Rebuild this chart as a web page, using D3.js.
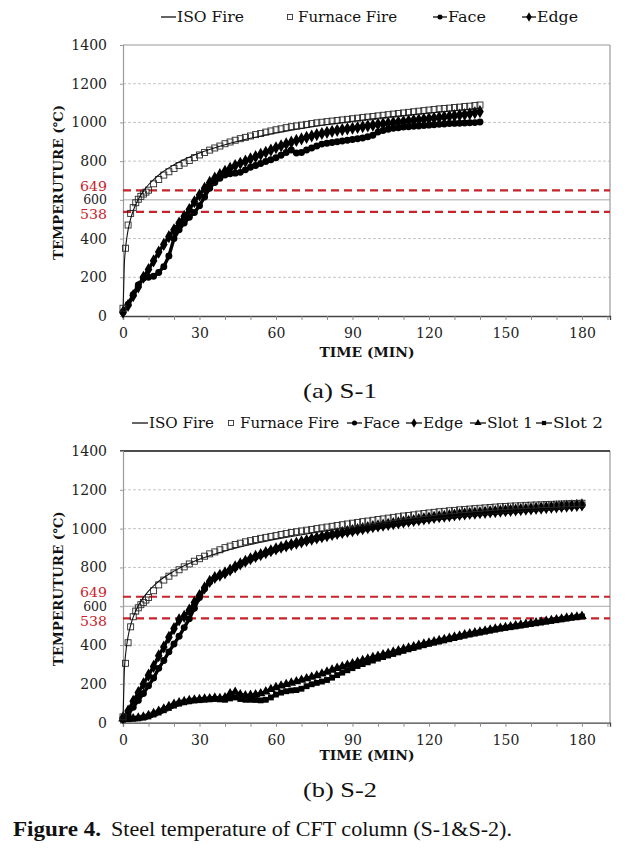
<!DOCTYPE html>
<html><head><meta charset="utf-8">
<script src="https://cdn.jsdelivr.net/npm/d3@7"></script>
<style>body{margin:0;background:#fff}svg{display:block}</style>
</head><body><svg id="c" width="630" height="849"></svg>
<script>
// ---------------- DATA ----------------
const yTicks = [0, 200, 400, 600, 800, 1000, 1200, 1400];
const xLabels = [0, 30, 60, 90, 120, 150, 180];
const xMinor = d3.range(0, 191, 10);
const limitTemps = [649, 538];

// ISO 834 standard fire curve
const isoTime = [0,0.5,1,1.5,2,3,4,5,6,8,10,12,15,20,25,30,40,50,60,75,90,105,120,140,160,180];
const isoTemp = [20,261,349,404,445,502,544,576,603,645,678,705,739,781,815,842,885,918,945,979,1006,1029,1049,1072,1092,1110];

// S-1
const furnaceTimeA = [0,1,2,3,4,5,6,7,8,9].concat(d3.range(10, 141, 2));
const furnaceA = [40,350,470,530,560,585,603,618,630,640,
  650,683,705,728,745,762,777,790,803,818,
  832,845,857,868,878,890,899,908,916,923,
  930,937,943,950,956,962,967,973,978,982,
  986,990,994,998,1001,1004,1007,1010,1013,1016,
  1019,1022,1025,1028,1031,1034,1037,1040,1043,1046,
  1049,1052,1055,1058,1061,1064,1067,1070,1072,1074,
  1077,1079,1082,1084,1087,1090];
const timeA = d3.range(0, 141, 2);
const edgeA = [20,55,105,150,200,240,285,330,370,410,
  445,480,515,550,590,625,660,690,712,730,
  748,763,777,789,800,812,823,835,846,857,
  869,879,889,898,907,915,923,930,937,943,
  949,954,959,963,967,970,974,978,982,986,
  990,993,996,999,1002,1005,1008,1011,1014,1017,
  1020,1023,1026,1029,1032,1035,1038,1041,1045,1050,
  1056];
const faceA = [20,60,110,160,195,200,205,225,255,310,
  400,445,480,510,535,570,615,660,690,712,
  728,735,738,742,755,768,778,788,798,807,
  818,830,845,858,842,845,858,868,878,888,
  892,896,900,904,908,912,916,920,926,934,
  950,958,965,970,973,976,978,980,982,984,
  986,988,990,992,994,995,996,997,998,999,
  1002];

// S-2
const furnaceTimeB = [0,1,2,3,4,5,6,7,8,9].concat(d3.range(10, 181, 2));
const furnaceB = [30,306,412,494,546,575,592,608,620,632,
  645,680,710,735,755,772,788,803,818,832,
  845,858,870,880,891,902,910,918,925,932,
  938,944,950,955,960,964,970,975,980,984,
  988,992,996,1000,1004,1008,1012,1016,1020,1024,
  1028,1032,1036,1039,1043,1047,1050,1054,1058,1061,
  1065,1068,1071,1075,1078,1081,1084,1087,1089,1092,
  1094,1097,1099,1101,1103,1105,1107,1109,1111,1113,
  1114,1116,1117,1118,1120,1121,1122,1123,1124,1125,
  1126,1127,1128,1129,1130,1131];
const timeB = d3.range(0, 181, 2);
const edgeB = [25,60,110,155,200,245,290,345,390,440,
  485,530,548,580,620,655,695,728,748,760,
  772,787,803,818,832,845,857,866,876,886,
  896,904,911,918,925,932,939,946,952,958,
  964,970,975,980,985,990,995,1000,1005,1010,
  1014,1018,1022,1026,1030,1034,1038,1042,1046,1050,
  1054,1058,1061,1064,1067,1070,1073,1076,1078,1080,
  1082,1084,1086,1088,1090,1092,1094,1096,1098,1100,
  1102,1104,1106,1108,1110,1112,1114,1116,1118,1120,
  1122];
const faceB = [20,40,80,115,150,190,230,280,320,365,
  405,445,490,535,590,645,690,725,745,758,
  770,784,800,815,829,842,854,864,874,884,
  893,901,909,916,923,930,937,944,950,956,
  962,967,972,977,982,987,992,997,1002,1007,
  1011,1015,1019,1023,1027,1031,1035,1039,1043,1047,
  1051,1055,1058,1061,1064,1067,1070,1073,1075,1077,
  1080,1082,1084,1086,1088,1090,1092,1094,1096,1098,
  1100,1102,1104,1106,1108,1110,1112,1114,1116,1118,
  1120];
const slot1B = [20,20,22,25,30,38,48,60,72,85,
  96,104,110,115,118,120,123,125,128,126,
  130,150,158,145,140,142,145,150,160,172,
  182,190,198,205,212,220,228,235,243,252,
  262,272,281,289,297,305,313,321,329,337,
  344,351,358,365,372,379,386,393,400,406,
  412,418,424,430,436,442,448,454,459,464,
  469,474,479,484,488,492,496,500,504,508,
  512,516,520,524,528,532,536,540,543,546,
  549];
const slot2B = [15,18,20,22,26,32,42,52,64,76,
  88,98,105,110,114,116,118,120,122,120,
  118,125,130,122,118,118,117,115,118,130,
  145,155,162,166,168,175,188,198,205,212,
  220,232,245,258,270,281,292,302,311,320,
  330,338,346,354,362,370,378,385,392,399,
  406,412,418,424,430,436,442,448,454,459,
  464,469,474,479,484,488,492,496,500,504,
  508,512,516,520,524,528,532,536,540,543,
  547];

// ---------------- DRAWING ----------------
const svg = d3.select('#c');
const SERIF = "'DejaVu Serif', 'Liberation Serif', serif";
const TIMES = "'Liberation Serif', 'Times New Roman', serif";
const RED = '#c8222a';

function zip(t, v) { return t.map((d, i) => ({t: d, v: v[i]})); }

function drawPanel(p) {
  const g = svg.append('g');
  const x = d3.scaleLinear().domain([0, 191]).range([123, 610]);
  const y = d3.scaleLinear().domain([0, 1400]).range([p.bottom, p.top]);

  // grid
  g.selectAll('.grid').data(yTicks.filter(d => d > 0 && d < 1400)).join('line')
    .attr('x1', x(0)).attr('x2', x(191))
    .attr('y1', d => y(d)).attr('y2', d => y(d))
    .attr('stroke', d => d === 600 ? '#a8a8a8' : '#c6c6c6')
    .attr('stroke-width', 1)
    .attr('stroke-dasharray', d => d === 600 ? null : '3,2');

  // frame
  g.append('line').attr('x1', x(191)).attr('x2', x(191)).attr('y1', y(1400)).attr('y2', y(0))
    .attr('stroke', '#9a9a9a').attr('stroke-width', 1.2);
  g.append('line').attr('x1', p.topBlack ? 120 : x(0)).attr('x2', x(191)).attr('y1', y(1400)).attr('y2', y(1400))
    .attr('stroke', p.topBlack ? '#111' : '#9a9a9a').attr('stroke-width', p.topBlack ? 1.6 : 1.2);

  // y axis
  const ya = d3.axisLeft(y).tickValues(yTicks).tickSize(3).tickPadding(13).tickFormat(d3.format('d'));
  const yg = g.append('g').attr('transform', `translate(${x(0)},0)`).call(ya);
  yg.select('.domain').attr('stroke', '#9a9a9a').attr('stroke-width', 1.2);
  yg.selectAll('.tick line').attr('stroke', '#9a9a9a');
  yg.selectAll('.tick text').attr('font-family', SERIF).attr('fill', '#222')
    .attr('font-size', d => d === 600 ? 12.5 : 14);

  // red limit lines
  g.selectAll('.lim').data(limitTemps).join('line')
    .attr('x1', x(0)).attr('x2', x(191))
    .attr('y1', d => y(d)).attr('y2', d => y(d))
    .attr('stroke', RED).attr('stroke-width', 2.2).attr('stroke-dasharray', '8,5');
  g.selectAll('.limt').data(limitTemps).join('text')
    .attr('x', 107).attr('y', d => y(d) + (d === 649 ? -4 : 3))
    .attr('dy', '0.34em').attr('text-anchor', 'end')
    .attr('font-family', SERIF).attr('font-size', 13).attr('fill', RED)
    .attr('textLength', 27).attr('lengthAdjust', 'spacingAndGlyphs')
    .text(d => d);

  // x axis
  const xa = d3.axisBottom(x).tickValues(xMinor).tickSize(4).tickPadding(8)
    .tickFormat(d => xLabels.includes(d) ? d : '');
  const xg = g.append('g').attr('transform', `translate(0,${y(0)})`).call(xa);
  xg.select('.domain').attr('stroke', '#444').attr('stroke-width', 1.3);
  xg.selectAll('.tick line').attr('stroke', '#8a8a8a');
  xg.selectAll('.tick text').attr('font-family', SERIF).attr('font-size', 14).attr('fill', '#222');

  // axis titles
  g.append('text').attr('x', 367).attr('y', p.xTitleY).attr('dy', '0.35em')
    .attr('text-anchor', 'middle').attr('font-family', SERIF).attr('font-weight', 'bold')
    .attr('font-size', 13).attr('textLength', 95).attr('lengthAdjust', 'spacingAndGlyphs')
    .attr('fill', '#111').text('TIME (MIN)');
  g.append('text').attr('transform', `translate(58.5,${(p.top + p.bottom) / 2 + 2}) rotate(-90)`)
    .attr('dy', '0.35em').attr('text-anchor', 'middle').attr('font-family', SERIF)
    .attr('font-weight', 'bold').attr('font-size', 13).attr('textLength', 155)
    .attr('lengthAdjust', 'spacingAndGlyphs').attr('fill', '#111').text('TEMPERUTURE (℃)');

  // series
  const line = d3.line().x(d => x(d.t)).y(d => y(d.v));
  p.series.forEach(s => {
    const pts = zip(s.t, s.v);
    g.append('path').datum(pts).attr('d', line).attr('fill', 'none')
      .attr('stroke', '#000').attr('stroke-width', 3.4).attr('stroke-linejoin', 'round');
    g.selectAll(null).data(pts).join('path')
      .attr('transform', d => `translate(${x(d.t)},${y(d.v)})`)
      .attr('d', d3.symbol().type(s.sym).size(s.size))
      .attr('fill', '#000');
  });
  // furnace squares
  const fpts = zip(p.furnaceT, p.furnace);
  g.selectAll(null).data(fpts).join('rect')
    .attr('x', d => x(d.t) - 3).attr('y', d => y(d.v) - 3)
    .attr('width', 6).attr('height', 6)
    .attr('fill', 'none').attr('stroke', '#2a2a2a').attr('stroke-width', 0.9);
  // ISO fire line
  const iso = zip(isoTime, isoTemp).filter(d => d.t <= p.isoMax);
  g.append('path').datum(iso)
    .attr('d', d3.line().x(d => x(d.t)).y(d => y(d.v)).curve(d3.curveMonotoneX))
    .attr('fill', 'none').attr('stroke', '#111').attr('stroke-width', 1.1);

  // legend
  const ly = p.legendY;
  p.legend.forEach(it => {
    if (it.kind === 'iso') {
      g.append('line').attr('x1', it.x0).attr('x2', it.x1).attr('y1', ly).attr('y2', ly)
        .attr('stroke', '#111').attr('stroke-width', 1.3);
    } else if (it.kind === 'furn') {
      g.append('rect').attr('x', it.mx - 2.5).attr('y', ly - 2.5).attr('width', 5).attr('height', 5)
        .attr('fill', 'none').attr('stroke', '#333').attr('stroke-width', 0.9);
    } else {
      g.append('line').attr('x1', it.x0).attr('x2', it.x1).attr('y1', ly).attr('y2', ly)
        .attr('stroke', '#111').attr('stroke-width', 1.3);
      g.append('path').attr('transform', `translate(${(it.x0 + it.x1) / 2},${ly})`)
        .attr('d', d3.symbol().type(it.sym).size(it.size)).attr('fill', '#000');
    }
    g.append('text').attr('x', it.tx).attr('y', ly).attr('dy', '0.36em')
      .attr('font-family', SERIF).attr('font-size', 14).attr('fill', '#111')
      .attr('textLength', it.tw).attr('lengthAdjust', 'spacingAndGlyphs').text(it.label);
  });

  // subtitle
  svg.append('text').attr('x', 340).attr('y', p.subY).attr('dy', '0.35em').attr('text-anchor', 'middle')
    .attr('font-family', TIMES).attr('font-size', 21).attr('fill', '#111')
    .attr('textLength', 74).attr('lengthAdjust', 'spacingAndGlyphs')
    .text(p.sub);
}

drawPanel({
  top: 45, bottom: 316, topBlack: false, xTitleY: 352, subY: 391, sub: '(a)  S-1',
  furnaceT: furnaceTimeA, furnace: furnaceA, isoMax: 140, legendY: 17,
  series: [
    {t: timeA, v: faceA, sym: d3.symbolCircle, size: 38},
    {t: timeA, v: edgeA, sym: d3.symbolDiamond, size: 50}
  ],
  legend: [
    {kind: 'iso', x0: 161, x1: 176, tx: 177, tw: 67, label: 'ISO Fire'},
    {kind: 'furn', mx: 290, tx: 298, tw: 99, label: 'Furnace Fire'},
    {kind: 'sym', sym: d3.symbolCircle, size: 20, x0: 433, x1: 447, tx: 448, tw: 38, label: 'Face'},
    {kind: 'sym', sym: d3.symbolDiamond, size: 26, x0: 522, x1: 536, tx: 537, tw: 41, label: 'Edge'}
  ]
});

drawPanel({
  top: 451, bottom: 722.7, topBlack: true, xTitleY: 755, subY: 790, sub: '(b)  S-2',
  furnaceT: furnaceTimeB, furnace: furnaceB, isoMax: 180, legendY: 423,
  series: [
    {t: timeB, v: slot2B, sym: d3.symbolSquare, size: 34},
    {t: timeB, v: slot1B, sym: d3.symbolTriangle, size: 40},
    {t: timeB, v: faceB, sym: d3.symbolCircle, size: 38},
    {t: timeB, v: edgeB, sym: d3.symbolDiamond, size: 50}
  ],
  legend: [
    {kind: 'iso', x0: 132, x1: 148, tx: 149, tw: 65, label: 'ISO Fire'},
    {kind: 'furn', mx: 231, tx: 240, tw: 99, label: 'Furnace Fire'},
    {kind: 'sym', sym: d3.symbolCircle, size: 20, x0: 347, x1: 362, tx: 363, tw: 37, label: 'Face'},
    {kind: 'sym', sym: d3.symbolDiamond, size: 26, x0: 406, x1: 422, tx: 423, tw: 40, label: 'Edge'},
    {kind: 'sym', sym: d3.symbolTriangle, size: 22, x0: 470, x1: 486, tx: 487, tw: 46, label: 'Slot 1'},
    {kind: 'sym', sym: d3.symbolSquare, size: 18, x0: 536, x1: 552, tx: 553, tw: 50, label: 'Slot 2'}
  ]
});

// caption
svg.append('text').attr('x', 13).attr('y', 829).attr('dy', '0.35em')
  .attr('font-family', TIMES).attr('font-weight', 'bold').attr('font-size', 20).attr('fill', '#111')
  .attr('textLength', 88).attr('lengthAdjust', 'spacingAndGlyphs').text('Figure 4.');
svg.append('text').attr('x', 111).attr('y', 829).attr('dy', '0.35em')
  .attr('font-family', TIMES).attr('font-size', 20).attr('fill', '#111')
  .attr('textLength', 401).attr('lengthAdjust', 'spacingAndGlyphs')
  .text('Steel temperature of CFT column (S-1&S-2).');
</script>
</body></html>
